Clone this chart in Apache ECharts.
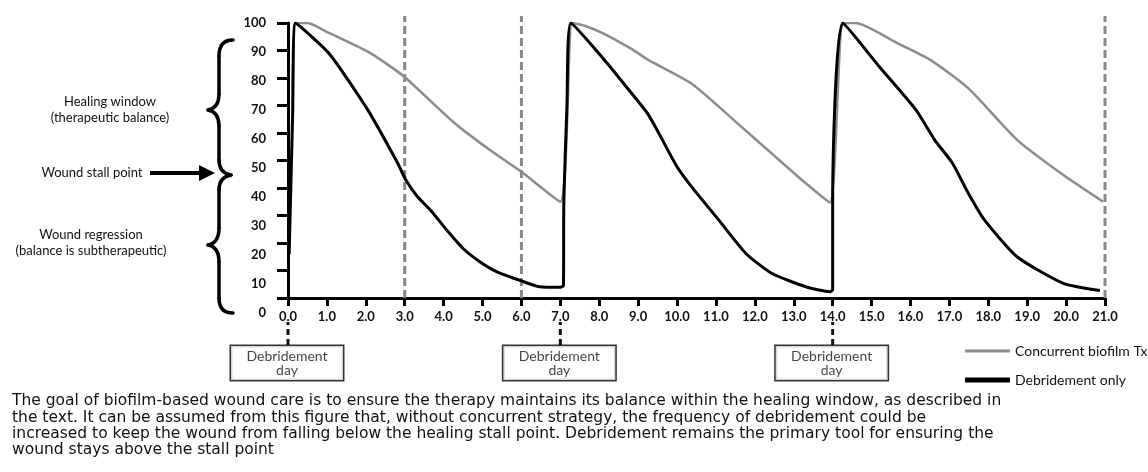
<!DOCTYPE html>
<html>
<head>
<meta charset="utf-8">
<script src="https://cdn.jsdelivr.net/npm/echarts@6/dist/echarts.min.js"></script>
<style>
html,body{margin:0;padding:0;background:#fff;}
#chart{width:1148px;height:472px;}
</style>
</head>
<body>
<div id="chart"></div>
<script>
// ---- data ----
var xTicks = [0,1,2,3,4,5,6,7,8,9,10,11,12,13,14,15,16,17,18,19,20,21];
var yTicks = [0,10,20,30,40,50,60,70,80,90,100];
var concurrentDays = [0.12,0.19,0.5,1.05,2.05,2.5,3.02,4.24,5.19,6.0,7.0,7.3,7.62,8.1,8.87,9.27,10.37,11.46,12.43,13.31,13.93,14.26,14.59,15.67,16.52,17.49,18.74,19.93,20.95];
var concurrentVals = [67,100,100,96.4,89.6,85.5,80.1,64.1,53.8,45.9,35.0,100,99,96.2,90.2,86.5,78,64.7,52.6,41.7,34.7,100,100,92.6,86.5,76.2,57.5,44.7,35];
var debrideDays = [0.03,0.12,0.19,1.05,2.05,2.82,3.03,3.33,3.66,4.08,4.5,4.93,5.36,6.0,6.46,7.0,7.08,7.09,7.17,7.27,8.1,8.73,9.27,10.0,10.37,11.07,11.77,12.43,13.31,13.93,14.0,14.0,14.26,15.2,16.14,16.62,17.08,17.49,17.9,18.74,19.93,20.87];
var debrideVals = [16,67,100,89,68.4,49,42.9,36.8,32,24.7,18,13.2,9.6,6.2,4.1,3.9,4.5,35,70,100,87.1,76.2,66.5,47.7,40.5,28.4,16.2,9.0,4.1,2.3,3,35,100,84.1,68.4,57.5,49,38,28.4,15,5.3,2.7];
var dashedDays = [3,6,21];
var debridementDayMarks = [0,7,14];
var seriesNames = ['Concurrent biofilm Tx','Debridement only'];
var boxLabel = 'Debridement\nday';
var captionLines = [
 'The goal of biofilm-based wound care is to ensure the therapy maintains its balance within the healing window, as described in',
 'the text. It can be assumed from this figure that, without concurrent strategy, the frequency of debridement could be',
 'increased to keep the wound from falling below the healing stall point. Debridement remains the primary tool for ensuring the',
 'wound stays above the stall point'
];

function zip(a,b){return a.map(function(v,i){return [v,b[i]];});}
function vlines(days){var d=[];days.forEach(function(x){d.push([x,0]);d.push([x,1]);d.push([x,'-']);});return d;}

var FONT = 'Lato, "Open Sans", sans-serif';
var CAPFONT = '"DejaVu Sans", "Open Sans", sans-serif';

// curly brace decoration (quadratic pieces: start, control, end)
var braceCurves = [
  [[233,40],[219,40],[219,56]],
  [[219,94],[219,108],[208,110]],
  [[208,110],[219,112],[219,126]],
  [[219,160],[219,173],[231,175]],
  [[231,175],[219,177],[219,190]],
  [[219,228],[219,243],[208,245]],
  [[208,245],[219,247],[219,262]],
  [[219,298],[219,313],[233,313]]
];
var braceLines = [[[219,56],[219,94]],[[219,126],[219,160]],[[219,190],[219,228]],[[219,262],[219,298]]];
var braceStyle = {stroke:'#000',lineWidth:3.5,fill:null,lineCap:'round'};
var braceGraphics = braceCurves.map(function(c){
  return {type:'bezierCurve',shape:{x1:c[0][0],y1:c[0][1],cpx1:c[1][0],cpy1:c[1][1],x2:c[2][0],y2:c[2][1]},style:braceStyle};
}).concat(braceLines.map(function(l){
  return {type:'line',shape:{x1:l[0][0],y1:l[0][1],x2:l[1][0],y2:l[1][1]},style:braceStyle};
}));

function txt(s,x,y){return {type:'text',x:x,y:y,style:{text:s,font:'13px '+FONT,fill:'#111',textAlign:'center',textVerticalAlign:'middle'}};}

var chart = echarts.init(document.getElementById('chart'));
var option = {
  animation:false,
  backgroundColor:'#fff',
  textStyle:{fontFamily:FONT},
  grid:[
    {left:288,right:43,top:23,height:275},
    {left:288,width:1,top:23,height:290},
    {left:288,right:43,top:322,height:23},
    {left:288,right:43,top:16,height:282}
  ],
  xAxis:[
    {gridIndex:0,type:'value',min:0,max:21,interval:1,
     axisLine:{lineStyle:{color:'#000',width:3}},
     axisTick:{length:8,lineStyle:{color:'#000',width:3}},
     axisLabel:{margin:12,fontSize:13,fontWeight:'bold',color:'#111',fontFamily:FONT,
       formatter:function(v){return v.toFixed(1);}},
     splitLine:{show:false}},
    {gridIndex:1,type:'value',min:0,max:1,show:false},
    {gridIndex:2,type:'value',min:0,max:21,show:false},
    {gridIndex:3,type:'value',min:0,max:21,show:false}
  ],
  yAxis:[
    {gridIndex:0,type:'value',min:0,max:100,interval:10,
     axisLine:{show:true,lineStyle:{color:'#000',width:3}},
     axisTick:{show:true,length:11,lineStyle:{color:'#000',width:3}},
     axisLabel:{show:false},splitLine:{show:false}},
    {gridIndex:1,type:'value',min:0,max:100,interval:10,
     axisLine:{show:false},axisTick:{show:false},splitLine:{show:false},
     axisLabel:{margin:22,fontSize:13,fontWeight:'bold',color:'#111',fontFamily:FONT}},
    {gridIndex:2,type:'value',min:0,max:1,show:false},
    {gridIndex:3,type:'value',min:0,max:1,show:false}
  ],
  legend:[
    {data:[seriesNames[0]],left:965,top:344,itemWidth:45,itemHeight:3,icon:'rect',selectedMode:false,
     padding:0,textStyle:{fontSize:14,color:'#111',fontFamily:FONT}},
    {data:[seriesNames[1]],left:965,top:373,itemWidth:45,itemHeight:5,icon:'rect',selectedMode:false,
     padding:0,textStyle:{fontSize:14,color:'#111',fontFamily:FONT}}
  ],
  series:[
    {name:seriesNames[0],type:'line',xAxisIndex:0,yAxisIndex:0,data:zip(concurrentDays,concurrentVals),
     smooth:0.2,
     color:'#8c8c8c',showSymbol:false,symbol:'none',lineStyle:{color:'#8c8c8c',width:2.5},z:3},
    {name:seriesNames[1],type:'line',xAxisIndex:0,yAxisIndex:0,data:zip(debrideDays,debrideVals),
     smooth:0.2,
     color:'#000',showSymbol:false,symbol:'none',lineStyle:{color:'#000',width:3},z:4},
    {type:'line',xAxisIndex:3,yAxisIndex:3,data:vlines(dashedDays),showSymbol:false,symbol:'none',
     connectNulls:false,lineStyle:{color:'#888',width:3,type:[8,4]},z:1,silent:true},
    {type:'line',xAxisIndex:2,yAxisIndex:2,data:vlines(debridementDayMarks),showSymbol:false,symbol:'none',
     connectNulls:false,lineStyle:{color:'#111',width:3,type:[6,4]},z:1,silent:true},
    {type:'scatter',xAxisIndex:2,yAxisIndex:2,clip:false,
     data:debridementDayMarks.map(function(d){return [d,0];}),
     symbol:'circle',symbolSize:0,symbolOffset:[-1,18],
     itemStyle:{color:'transparent'},
     label:{show:true,position:'inside',formatter:boxLabel,fontSize:14,lineHeight:14,color:'#111',fontFamily:FONT,
       width:112,height:34,padding:0,align:'center',verticalAlign:'middle',
       backgroundColor:'#fff',borderColor:'#000',borderWidth:1.5},
     z:5,silent:true}
  ],
  graphic:[
    txt('Healing window',110,102),
    txt('(therapeutic balance)',110,118),
    txt('Wound stall point',92,173),
    txt('Wound regression',91,235),
    txt('(balance is subtherapeutic)',91,251),
    {type:'rect',shape:{x:150,y:171,width:52,height:4},style:{fill:'#000'}},
    {type:'polygon',shape:{points:[[199,165],[215,173],[199,181]]},style:{fill:'#000'}},
    {type:'text',x:12,y:393,style:{text:captionLines.join('\n'),font:'15.5px '+CAPFONT,lineHeight:16.4,fill:'#111',textAlign:'left',textVerticalAlign:'top'}}
  ].concat(braceGraphics)
};
chart.setOption(option);
</script>
</body>
</html>
